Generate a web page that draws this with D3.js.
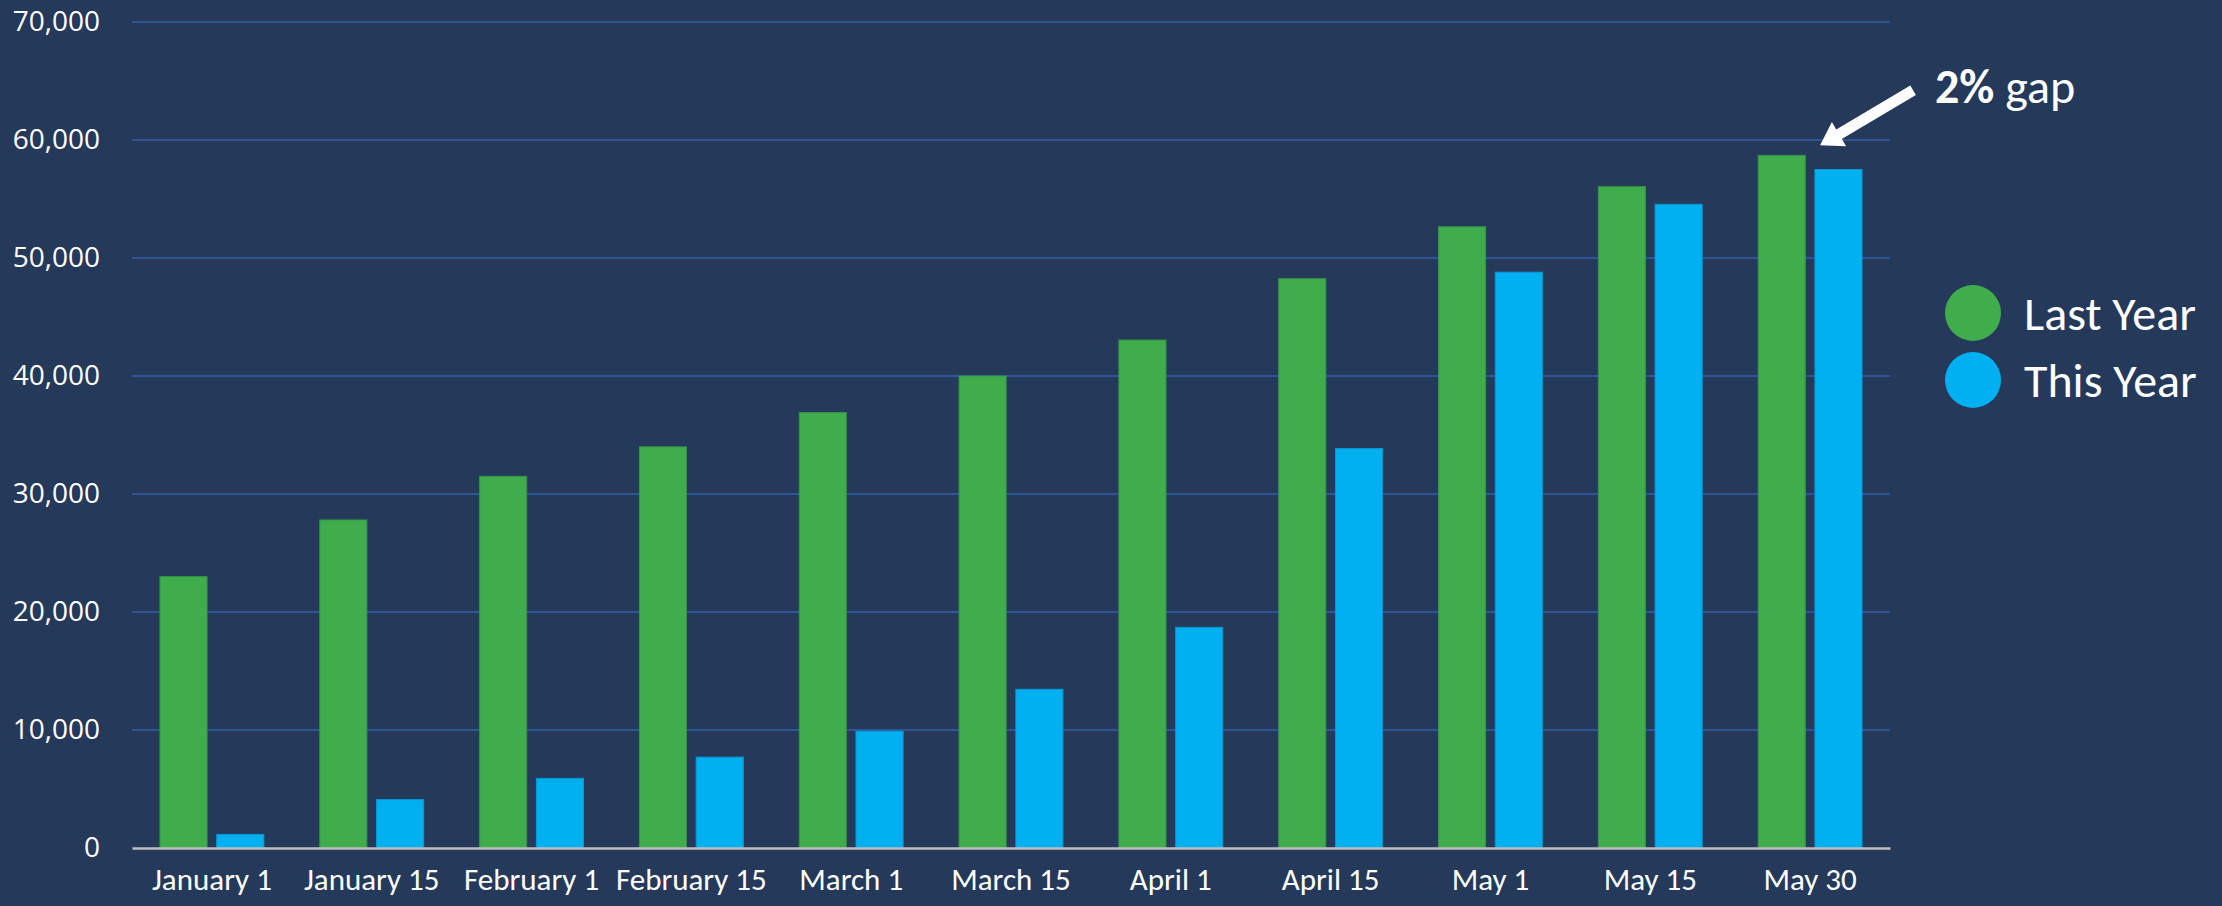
<!DOCTYPE html>
<html>
<head>
<meta charset="utf-8">
<script src="https://cdn.jsdelivr.net/npm/d3@7"></script>
<style>
  html, body { margin: 0; padding: 0; background: #25395A; }
  svg { display: block; font-family: Calibri, Carlito, Lato, sans-serif; }
</style>
</head>
<body>
<div id="chart"></div>
<script>
// data
const categories = ['January 1', 'January 15', 'February 1', 'February 15', 'March 1',
  'March 15', 'April 1', 'April 15', 'May 1', 'May 15', 'May 30'];
const lastYear = [23000, 27800, 31500, 34000, 36900, 40000, 43050, 48250, 52650, 56050, 58700];
const thisYear = [1150, 4100, 5900, 7700, 9900, 13450, 18700, 33850, 48800, 54550, 57500];
const yTicks = [0, 10000, 20000, 30000, 40000, 50000, 60000, 70000];
const seriesNames = ['Last Year', 'This Year'];
const seriesColors = ['#3FAD4B', '#00B0F0'];
const seriesStroke = ['#35924A', '#0A98D0'];

const W = 2222, H = 906;
const margin = {top: 22, right: 332, bottom: 58, left: 132};
const width = W - margin.left - margin.right,
  height = H - margin.top - margin.bottom;

const svg = d3.select('#chart')
  .append('svg')
  .attr('width', W)
  .attr('height', H);

svg.append('rect').attr('width', W).attr('height', H).attr('fill', '#25395A');

const g = svg.append('g')
  .attr('transform', 'translate(' + margin.left + ',' + margin.top + ')');

const x = d3.scaleBand()
  .domain(categories)
  .range([0, width])
  .paddingInner(0.35)
  .paddingOuter(0.175);

const x1 = d3.scaleBand()
  .domain(seriesNames)
  .range([0, x.bandwidth()])
  .paddingInner(0.17);

const y = d3.scaleLinear()
  .domain([0, 70000])
  .range([height, 0]);

// gridlines
g.append('g')
  .selectAll('line')
  .data(yTicks.filter(d => d > 0))
  .enter()
  .append('line')
  .attr('x1', 0)
  .attr('x2', width)
  .attr('y1', d => y(d))
  .attr('y2', d => y(d))
  .attr('stroke', '#2F5597')
  .attr('stroke-width', 2);

// y axis labels
const yAxis = g.append('g')
  .call(d3.axisLeft(y).tickValues(yTicks).tickFormat(d3.format(',')).tickSize(0).tickPadding(32));
yAxis.select('.domain').remove();
yAxis.selectAll('text')
  .attr('fill', '#FFFFFF')
  .style('font-size', '28px')
  .style('font-family', '"Open Sans", "Noto Sans", sans-serif');

// bars
const rows = categories.map((c, i) => ({cat: c, vals: [lastYear[i], thisYear[i]]}));

const groups = g.selectAll('.grp')
  .data(rows)
  .enter()
  .append('g')
  .attr('class', 'grp')
  .attr('transform', d => 'translate(' + x(d.cat) + ',0)');

groups.selectAll('rect')
  .data(d => d.vals.map((v, k) => ({name: seriesNames[k], v: v, k: k})))
  .enter()
  .append('rect')
  .attr('x', d => x1(d.name))
  .attr('y', d => y(d.v))
  .attr('width', x1.bandwidth())
  .attr('height', d => height - y(d.v))
  .attr('fill', d => seriesColors[d.k])
  .attr('stroke', d => seriesStroke[d.k])
  .attr('stroke-width', 1);

// x axis
const xAxis = g.append('g')
  .attr('transform', 'translate(0,' + height + ')')
  .call(d3.axisBottom(x).tickSize(0).tickPadding(20));
xAxis.select('.domain')
  .attr('stroke', '#BFBFBF')
  .attr('stroke-width', 2.5);
xAxis.selectAll('text')
  .attr('fill', '#FFFFFF')
  .style('font-size', '31px')
  .style('font-family', 'Calibri, Carlito, Lato, sans-serif');

// legend
const legend = svg.append('g')
  .attr('transform', 'translate(1973,313)');
seriesNames.forEach((name, i) => {
  const row = legend.append('g').attr('transform', 'translate(0,' + (i * 67) + ')');
  row.append('circle')
    .attr('r', 28)
    .attr('fill', seriesColors[i]);
  row.append('text')
    .attr('x', 51)
    .attr('y', 17)
    .attr('fill', '#FFFFFF')
    .style('font-size', '48px')
    .text(name);
});

// annotation: arrow pointing at the last pair of bars
const last = categories.length - 1;
const tip = [margin.left + x(categories[last]) + x.bandwidth() / 2 + 10,
  margin.top + y(lastYear[last]) - 10];
const tail = [tip[0] + 93, tip[1] - 55];
const ang = Math.atan2(tail[1] - tip[1], tail[0] - tip[0]);
const headLen = 22, headW = 14, shaftW = 5.5;
const ux = Math.cos(ang), uy = Math.sin(ang), px = -uy, py = ux;
const base = [tip[0] + ux * headLen, tip[1] + uy * headLen];
const pts = [
  tip,
  [base[0] + px * headW, base[1] + py * headW],
  [base[0] + px * shaftW, base[1] + py * shaftW],
  [tail[0] + px * shaftW, tail[1] + py * shaftW],
  [tail[0] - px * shaftW, tail[1] - py * shaftW],
  [base[0] - px * shaftW, base[1] - py * shaftW],
  [base[0] - px * headW, base[1] - py * headW]
];
svg.append('polygon')
  .attr('points', pts.map(p => p.join(',')).join(' '))
  .attr('fill', '#FFFFFF');

const note = svg.append('text')
  .attr('x', 1935)
  .attr('y', 103)
  .attr('fill', '#FFFFFF')
  .style('font-size', '48px');
note.append('tspan').style('font-weight', 'bold').text('2%');
note.append('tspan').text(' gap');
</script>
</body>
</html>
